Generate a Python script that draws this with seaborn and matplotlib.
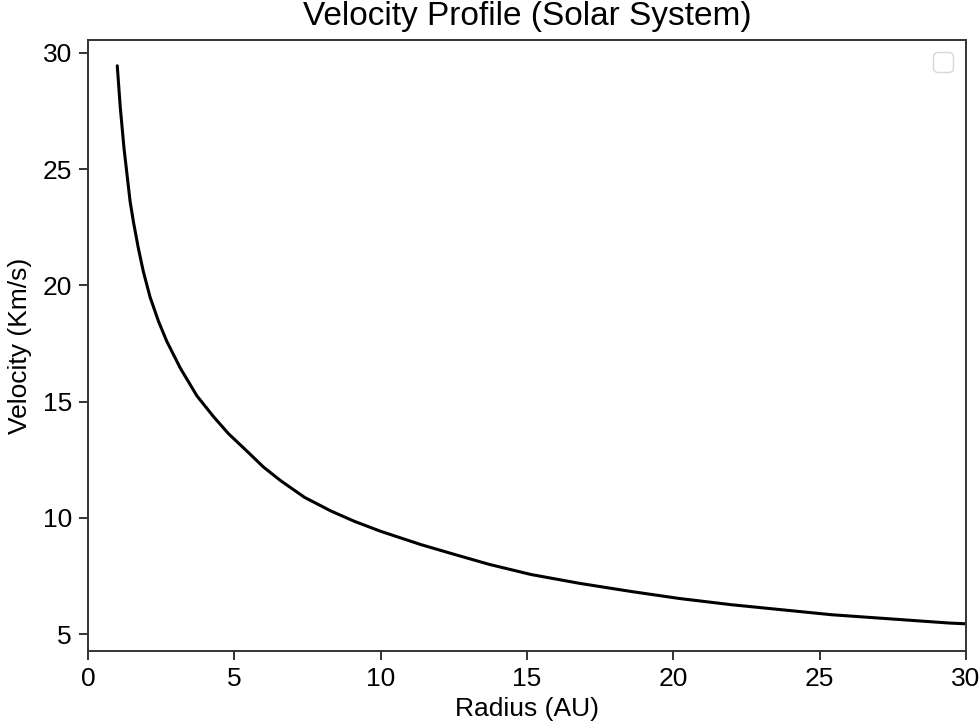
import pandas as pd
import matplotlib
matplotlib.use("Agg")
import matplotlib.pyplot as plt
import seaborn as sns

# values
radius = [1.0, 1.10, 1.23, 1.44, 1.55, 1.72, 1.89, 2.12, 2.41, 2.69, 3.15, 3.72,
          4.29, 4.8, 5.43, 6.0, 6.58, 7.4, 8.29, 9.1, 10.0, 11.37, 12.4, 13.7,
          15.14, 16.8, 18.56, 20.2, 21.99, 25.41, 29.46, 30.0]
velocity = [29.45, 27.7, 25.9, 23.6, 22.75, 21.6, 20.6, 19.5, 18.45, 17.6, 16.45,
            15.25, 14.35, 13.62, 12.87, 12.18, 11.6, 10.88, 10.3, 9.85, 9.42, 8.85,
            8.47, 8.0, 7.56, 7.18, 6.83, 6.53, 6.26, 5.83, 5.47, 5.44]

df = pd.DataFrame({"Radius": radius, "Velocity": velocity})

sns.set_theme(style="ticks")
plt.rcParams["font.family"] = ["Liberation Sans", "DejaVu Sans"]
plt.rcParams["text.color"] = "black"
plt.rcParams["axes.labelcolor"] = "black"
plt.rcParams["xtick.color"] = "black"
plt.rcParams["ytick.color"] = "black"

fig = plt.figure(figsize=(9.8, 7.23), dpi=100)
ax = fig.add_axes([0.0898, 0.0996, 0.8959, 0.8451])

sns.lineplot(data=df, x="Radius", y="Velocity", color="black", linewidth=2.2, ax=ax)

ax.set_xlim(0, 30)
ax.set_ylim(4.27, 30.56)
ax.set_xticks([0, 5, 10, 15, 20, 25, 30])
ax.set_yticks([5, 10, 15, 20, 25, 30])
ax.tick_params(axis="both", labelsize=19, length=6.5, width=1.4, color="#333333", pad=5)
for s in ax.spines.values():
    s.set_color("#333333")
    s.set_linewidth(1.4)

ax.set_title("Velocity Profile (Solar System)", fontsize=24, pad=11)
ax.set_xlabel("Radius (AU)", fontsize=19, labelpad=4)
ax.set_ylabel("Velocity (Km/s)", fontsize=19, labelpad=8)
ax.legend(loc="upper right", fontsize=18)

fig.savefig("out.png", dpi=100)
